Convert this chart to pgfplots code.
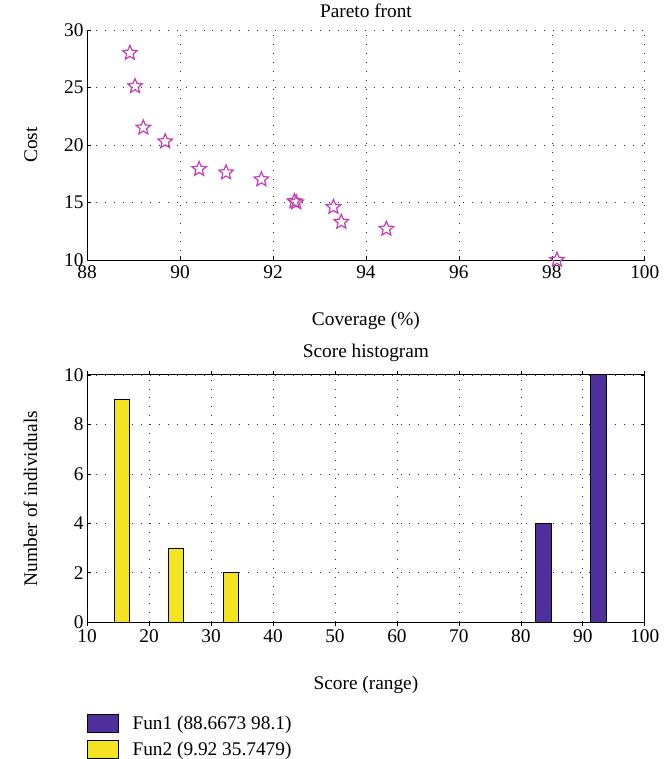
\documentclass[border=0pt]{standalone}
\usepackage{fontspec}
\setmainfont{Liberation Serif}
\usepackage{pgfplots}
\pgfplotsset{compat=1.18}
\definecolor{starpink}{HTML}{C43FB4}
\definecolor{funpurple}{HTML}{4E2F9C}
\definecolor{funyellow}{HTML}{F4E320}

% five-pointed outline star
\pgfdeclareplotmark{pentastar}{%
  \pgfpathmoveto{\pgfpointpolar{90}{\pgfplotmarksize}}%
  \pgfpathlineto{\pgfpointpolar{126}{0.45\pgfplotmarksize}}%
  \pgfpathlineto{\pgfpointpolar{162}{\pgfplotmarksize}}%
  \pgfpathlineto{\pgfpointpolar{198}{0.45\pgfplotmarksize}}%
  \pgfpathlineto{\pgfpointpolar{234}{\pgfplotmarksize}}%
  \pgfpathlineto{\pgfpointpolar{270}{0.45\pgfplotmarksize}}%
  \pgfpathlineto{\pgfpointpolar{306}{\pgfplotmarksize}}%
  \pgfpathlineto{\pgfpointpolar{342}{0.45\pgfplotmarksize}}%
  \pgfpathlineto{\pgfpointpolar{18}{\pgfplotmarksize}}%
  \pgfpathlineto{\pgfpointpolar{54}{0.45\pgfplotmarksize}}%
  \pgfpathclose
  \pgfusepathqstroke
}

\pgfplotsset{
  common/.style={
    scale only axis,
    width=548pt,
    /pgf/number format/assume math mode=true,
    tick label style={font=\fontsize{19}{22}\selectfont},
    label style={font=\fontsize{19}{22}\selectfont},
    title style={font=\fontsize{19}{22}\selectfont, yshift=3pt},
    tick align=inside,
    major tick length=4pt,
    grid=major,
    major grid style={black!80, line width=0.6pt, dash pattern=on 0.8pt off 8pt},
    axis line style={line width=0.8pt, -},
    tick style={black, line width=0.6pt},
    xlabel style={yshift=-26pt},
    ylabel style={inner ysep=23pt},
  }
}

\pgfplotstableread{
x y
88.92 28.0
89.03 25.1
89.21 21.5
89.68 20.3
90.41 17.9
90.99 17.6
91.75 17.0
92.46 15.1
92.50 15.0
93.30 14.6
93.47 13.3
94.44 12.7
98.11 10.0
}\pareto

\begin{document}
\begin{tikzpicture}
\begin{axis}[
  common,
  height=226pt,
  at={(0,0)}, anchor=south west,
  xmin=88, xmax=100, ymin=10, ymax=30,
  xtick={88,90,...,100}, ytick={10,15,...,30},
  axis x line*=bottom, axis y line*=left,
  xticklabel style={yshift=-2pt, inner xsep=9pt},
  title={Pareto front},
  xlabel={Coverage (\%)}, ylabel={Cost},
  clip=false,
]
\addplot[only marks, mark=pentastar, mark size=7.5pt, starpink, mark options={line width=1.2pt}] table[x=x, y=y] {\pareto};
\end{axis}

\begin{axis}[
  common,
  height=243pt,
  at={(0,-356pt)}, anchor=south west,
  xmin=10, xmax=100, ymin=0, ymax=10,
  xtick={10,20,...,100}, ytick={0,2,...,10},
  title={Score histogram},
  xlabel={Score (range)}, ylabel={Number of individuals},
  ybar, bar width=2.5, bar shift=0pt,
  legend style={at={(0,-0.37)}, anchor=north west, draw=none, fill=none,
    font=\fontsize{19}{22}\selectfont, inner sep=0pt, row sep=7pt,
    legend cell align=left},
  legend image code/.code={\draw[#1, draw=black, line width=0.8pt] (0pt,-8.5pt) rectangle (30pt,8.5pt);
    \path[draw=none, fill=none] (0pt,0pt) rectangle (42pt,1pt);},
]
\addplot[fill=funpurple, draw=black, line width=0.8pt] coordinates {(83.65,4) (92.5,10)};
\addlegendentry{Fun1 (88.6673 98.1)}
\addplot[fill=funyellow, draw=black, line width=0.8pt] coordinates {(15.6,9) (24.3,3) (33.2,2)};
\addlegendentry{Fun2 (9.92 35.7479)}
\end{axis}
\end{tikzpicture}
\end{document}
